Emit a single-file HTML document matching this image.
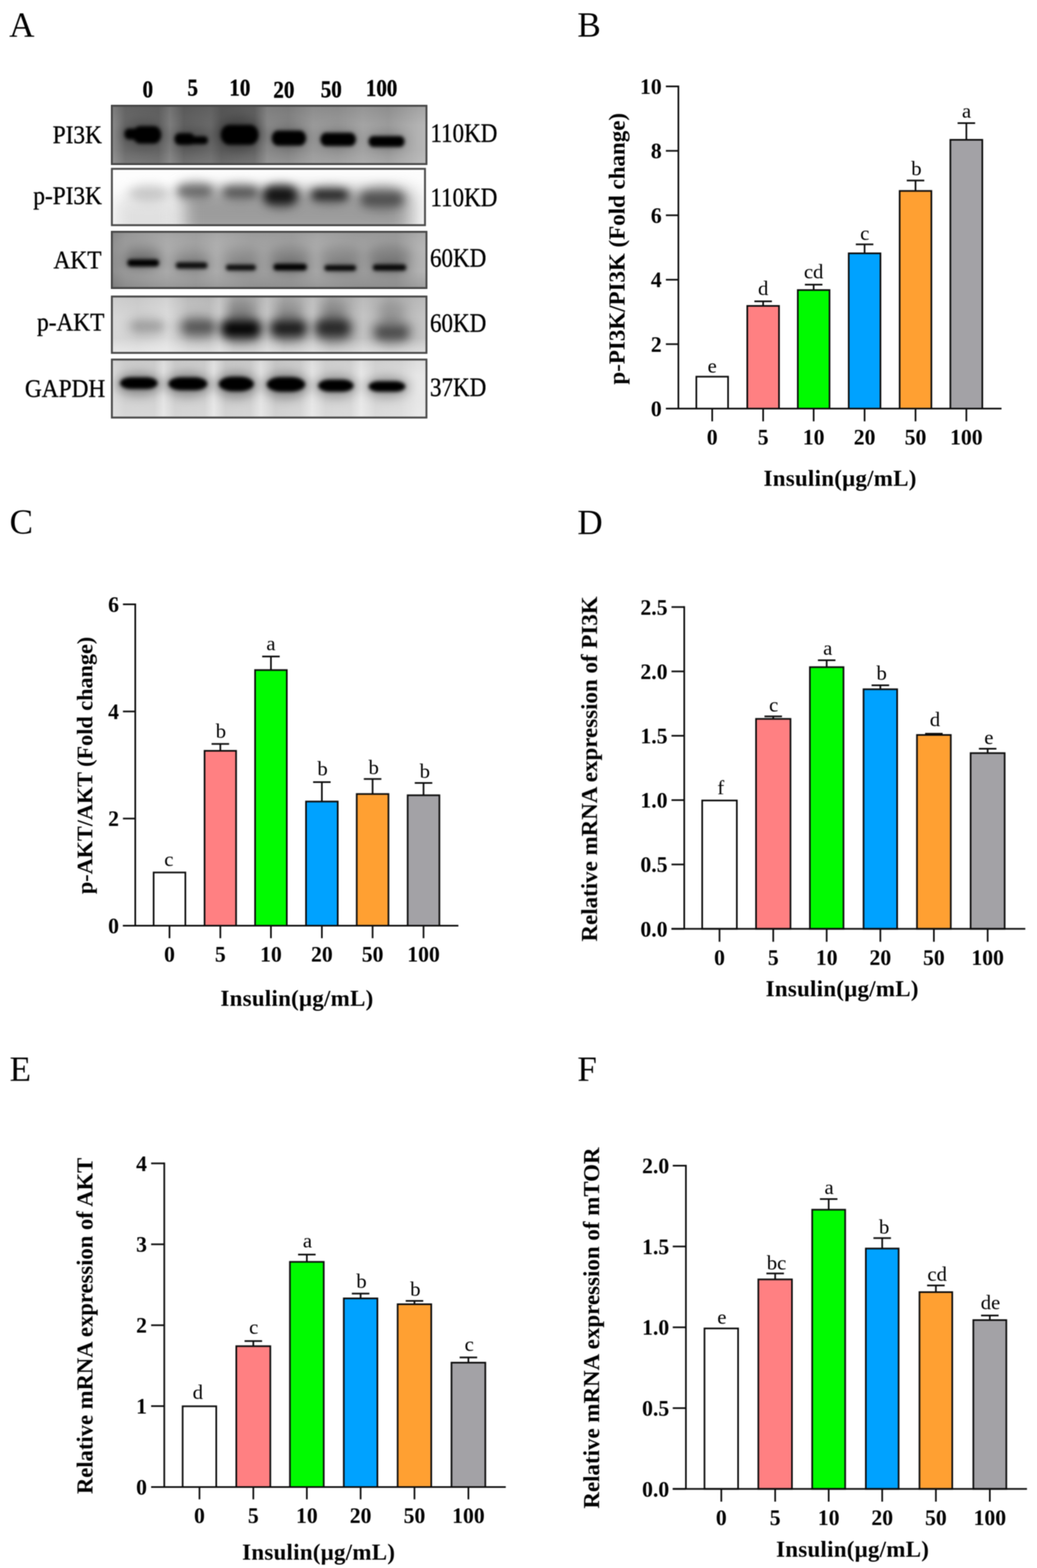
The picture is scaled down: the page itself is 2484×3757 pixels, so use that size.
<!DOCTYPE html>
<html lang="en"><head><meta charset="utf-8"><title>Figure</title>
<style>
html,body{margin:0;padding:0;background:#fff;}
body{width:2484px;height:3757px;font-family:"Liberation Serif", serif;}
svg{display:block;}
text{font-family:"Liberation Serif", serif;fill:#000;}
</style></head><body>
<svg width="2484" height="3757" viewBox="0 0 2484 3757">
<rect width="2484" height="3757" fill="#ffffff"/>
<defs>
<filter color-interpolation-filters="sRGB" id="b12" x="-50%" y="-120%" width="200%" height="340%"><feGaussianBlur stdDeviation="12"/></filter>
<filter color-interpolation-filters="sRGB" id="b20" x="-50%" y="-50%" width="200%" height="200%"><feGaussianBlur stdDeviation="20"/></filter>
<filter color-interpolation-filters="sRGB" id="bt" x="-10%" y="-10%" width="120%" height="120%"><feGaussianBlur stdDeviation="0.9"/></filter>
<filter color-interpolation-filters="sRGB" id="soft" filterUnits="userSpaceOnUse" x="0" y="0" width="2484" height="3757"><feGaussianBlur stdDeviation="0.8"/></filter>
</defs>

<g filter="url(#soft)">
<text x="22.0" y="88.0" font-size="84" font-weight="normal" text-anchor="start" >A</text>
<text x="1383.0" y="88.0" font-size="84" font-weight="normal" text-anchor="start" >B</text>
<text x="23.0" y="1279.0" font-size="84" font-weight="normal" text-anchor="start" >C</text>
<text x="1383.0" y="1280.0" font-size="84" font-weight="normal" text-anchor="start" >D</text>
<text x="23.0" y="2590.0" font-size="84" font-weight="normal" text-anchor="start" >E</text>
<text x="1383.0" y="2590.0" font-size="84" font-weight="normal" text-anchor="start" >F</text>
</g>
<filter color-interpolation-filters="sRGB" id="b4" x="-30%" y="-80%" width="160%" height="260%"><feGaussianBlur stdDeviation="4"/></filter>
<filter color-interpolation-filters="sRGB" id="b10" x="-40%" y="-120%" width="180%" height="340%"><feGaussianBlur stdDeviation="10"/></filter>
<linearGradient id="h_pi3k" gradientUnits="userSpaceOnUse" x1="266.0" y1="0" x2="1023.5" y2="0"><stop offset="0.000" stop-color="#8e8e8e"/><stop offset="0.045" stop-color="#6c6c6c"/><stop offset="0.150" stop-color="#666"/><stop offset="0.187" stop-color="#7e7e7e"/><stop offset="0.230" stop-color="#626262"/><stop offset="0.316" stop-color="#6a6a6a"/><stop offset="0.349" stop-color="#5c5c5c"/><stop offset="0.454" stop-color="#666"/><stop offset="0.494" stop-color="#8a8a8a"/><stop offset="0.560" stop-color="#868686"/><stop offset="0.639" stop-color="#9a9a9a"/><stop offset="0.718" stop-color="#989898"/><stop offset="0.797" stop-color="#a4a4a4"/><stop offset="0.877" stop-color="#9c9c9c"/><stop offset="0.969" stop-color="#b2b2b2"/><stop offset="0.999" stop-color="#b8b8b8"/></linearGradient>
<linearGradient id="v_pi3k" gradientUnits="userSpaceOnUse" x1="0" y1="251.5" x2="0" y2="395"><stop offset="-0.003" stop-color="#000" stop-opacity="0.1"/><stop offset="0.338" stop-color="#000" stop-opacity="0.0"/><stop offset="0.756" stop-color="#fff" stop-opacity="0.0"/><stop offset="1.000" stop-color="#fff" stop-opacity="0.1"/></linearGradient>
<clipPath id="c_pi3k"><rect x="266.0" y="251.5" width="757.5" height="143.5"/></clipPath>
<g clip-path="url(#c_pi3k)">
<rect x="266.0" y="251.5" width="757.5" height="143.5" fill="url(#h_pi3k)"/>
<rect x="266.0" y="251.5" width="757.5" height="143.5" fill="url(#v_pi3k)"/>
<g filter="url(#b12)">
<ellipse cx="342" cy="322" rx="55.0" ry="33.0" fill="#000" fill-opacity="0.22"/>
<ellipse cx="458" cy="332" rx="50.0" ry="25.0" fill="#000" fill-opacity="0.18"/>
<ellipse cx="574" cy="320" rx="57.5" ry="40.0" fill="#000" fill-opacity="0.28"/>
<ellipse cx="692" cy="330" rx="50.0" ry="28.0" fill="#000" fill-opacity="0.2"/>
<ellipse cx="810" cy="333" rx="50.0" ry="24.0" fill="#000" fill-opacity="0.18"/>
<ellipse cx="926" cy="338" rx="50.0" ry="21.0" fill="#000" fill-opacity="0.18"/>
</g>
<g filter="url(#b4)">
<rect x="318.0" y="302.0" width="68" height="42" rx="17.6" ry="21.0" fill="#000" fill-opacity="1"/>
<rect x="298.0" y="308.0" width="48" height="26" rx="10.9" ry="13.0" fill="#000" fill-opacity="1"/>
<rect x="418.0" y="319.0" width="48" height="28" rx="11.8" ry="14.0" fill="#000" fill-opacity="1"/>
<rect x="450.0" y="326.5" width="48" height="19" rx="8.0" ry="9.5" fill="#000" fill-opacity="1"/>
<rect x="529.0" y="299.0" width="90" height="48" rx="20.2" ry="24.0" fill="#000" fill-opacity="1"/>
<rect x="651.0" y="313.0" width="82" height="36" rx="15.1" ry="18.0" fill="#000" fill-opacity="1"/>
<rect x="767.5" y="318.0" width="85" height="32" rx="13.4" ry="16.0" fill="#000" fill-opacity="1"/>
<rect x="883.0" y="326.0" width="86" height="26" rx="10.9" ry="13.0" fill="#000" fill-opacity="1"/>
</g>
</g>
<rect x="268.0" y="253.5" width="753.5" height="139.5" fill="none" stroke="#484848" stroke-width="4.5" filter="url(#bt)"/>
<linearGradient id="h_ppi3k" gradientUnits="userSpaceOnUse" x1="266.0" y1="0" x2="1020" y2="0"><stop offset="0.000" stop-color="#fdfdfd"/><stop offset="1.000" stop-color="#fdfdfd"/></linearGradient>
<linearGradient id="v_ppi3k" gradientUnits="userSpaceOnUse" x1="0" y1="402.5" x2="0" y2="541.5"><stop offset="-0.004" stop-color="#fff" stop-opacity="0"/><stop offset="0.996" stop-color="#fff" stop-opacity="0"/></linearGradient>
<clipPath id="c_ppi3k"><rect x="266.0" y="402.5" width="754.0" height="139.0"/></clipPath>
<g clip-path="url(#c_ppi3k)">
<rect x="266.0" y="402.5" width="754.0" height="139.0" fill="url(#h_ppi3k)"/>
<rect x="266.0" y="402.5" width="754.0" height="139.0" fill="url(#v_ppi3k)"/>
<g filter="url(#b20)">
<rect x="275" y="475" width="150" height="90" fill="#e0e0e0" fill-opacity="1"/>
<rect x="440" y="455" width="535" height="110" fill="#9c9c9c" fill-opacity="1"/>
<rect x="975" y="460" width="30" height="100" fill="#cccccc" fill-opacity="0.8"/>
</g>
<g filter="url(#b12)">
<ellipse cx="357" cy="464" rx="50.0" ry="20.0" fill="#bbb" fill-opacity="0.8"/>
<ellipse cx="467" cy="458" rx="50.0" ry="23.0" fill="#777" fill-opacity="0.6"/>
<ellipse cx="576" cy="461" rx="50.0" ry="21.0" fill="#666" fill-opacity="0.6"/>
<ellipse cx="673" cy="470" rx="48.0" ry="30.0" fill="#333" fill-opacity="0.6"/>
<ellipse cx="790" cy="468" rx="52.5" ry="22.0" fill="#444" fill-opacity="0.5"/>
<ellipse cx="915" cy="476" rx="59.0" ry="30.0" fill="#555" fill-opacity="0.5"/>
</g>
<g filter="url(#b10)">
<rect x="429.0" y="447.0" width="76" height="22" rx="9.2" ry="11.0" fill="#333" fill-opacity="0.5"/>
<rect x="537.0" y="451.0" width="78" height="20" rx="8.4" ry="10.0" fill="#222" fill-opacity="0.55"/>
<rect x="634.0" y="449.0" width="74" height="38" rx="16.0" ry="19.0" fill="#000" fill-opacity="0.8"/>
<rect x="748.0" y="456.0" width="84" height="22" rx="9.2" ry="11.0" fill="#000" fill-opacity="0.75"/>
<rect x="867.0" y="462.0" width="96" height="30" rx="12.6" ry="15.0" fill="#222" fill-opacity="0.5"/>
</g>
</g>
<rect x="268.0" y="404.5" width="750.0" height="135.0" fill="none" stroke="#484848" stroke-width="4.5" filter="url(#bt)"/>
<linearGradient id="h_akt" gradientUnits="userSpaceOnUse" x1="266.0" y1="0" x2="1023.5" y2="0"><stop offset="0.000" stop-color="#8c8c8c"/><stop offset="0.045" stop-color="#9c9c9c"/><stop offset="0.177" stop-color="#acacac"/><stop offset="0.269" stop-color="#a4a4a4"/><stop offset="0.335" stop-color="#aeaeae"/><stop offset="0.441" stop-color="#a2a2a2"/><stop offset="0.573" stop-color="#a0a0a0"/><stop offset="0.652" stop-color="#aaaaaa"/><stop offset="0.771" stop-color="#a0a0a0"/><stop offset="0.903" stop-color="#9e9e9e"/><stop offset="0.969" stop-color="#b0b0b0"/><stop offset="0.999" stop-color="#b6b6b6"/></linearGradient>
<linearGradient id="v_akt" gradientUnits="userSpaceOnUse" x1="0" y1="553.5" x2="0" y2="692"><stop offset="-0.004" stop-color="#000" stop-opacity="0.06"/><stop offset="0.336" stop-color="#fff" stop-opacity="0.02"/><stop offset="0.697" stop-color="#000" stop-opacity="0.0"/><stop offset="1.000" stop-color="#000" stop-opacity="0.12"/></linearGradient>
<clipPath id="c_akt"><rect x="266.0" y="553.5" width="757.5" height="138.5"/></clipPath>
<g clip-path="url(#c_akt)">
<rect x="266.0" y="553.5" width="757.5" height="138.5" fill="url(#h_akt)"/>
<rect x="266.0" y="553.5" width="757.5" height="138.5" fill="url(#v_akt)"/>
<g filter="url(#b12)">
<ellipse cx="343" cy="608" rx="45.0" ry="20.0" fill="#000" fill-opacity="0.18"/>
<ellipse cx="459" cy="612" rx="45.0" ry="20.0" fill="#000" fill-opacity="0.1"/>
<ellipse cx="577" cy="612" rx="45.0" ry="20.0" fill="#000" fill-opacity="0.12"/>
<ellipse cx="695" cy="612" rx="50.0" ry="22.5" fill="#000" fill-opacity="0.16"/>
<ellipse cx="815" cy="612" rx="50.0" ry="22.5" fill="#000" fill-opacity="0.14"/>
<ellipse cx="933" cy="612" rx="52.5" ry="25.0" fill="#000" fill-opacity="0.18"/>
<ellipse cx="343" cy="630" rx="47.5" ry="15.0" fill="#000" fill-opacity="0.3"/>
<ellipse cx="459" cy="636" rx="47.5" ry="14.0" fill="#000" fill-opacity="0.25"/>
<ellipse cx="577" cy="641" rx="45.0" ry="13.0" fill="#000" fill-opacity="0.25"/>
<ellipse cx="695" cy="640" rx="49.0" ry="15.0" fill="#000" fill-opacity="0.3"/>
<ellipse cx="815" cy="642" rx="47.5" ry="13.0" fill="#000" fill-opacity="0.28"/>
<ellipse cx="933" cy="641" rx="49.0" ry="14.0" fill="#000" fill-opacity="0.28"/>
</g>
<g filter="url(#b4)">
<rect x="305.0" y="621.5" width="76" height="17" rx="7.1" ry="8.5" fill="#000" fill-opacity="1"/>
<rect x="421.0" y="628.5" width="76" height="15" rx="6.3" ry="7.5" fill="#000" fill-opacity="0.9"/>
<rect x="541.0" y="634.0" width="72" height="14" rx="5.9" ry="7.0" fill="#000" fill-opacity="0.9"/>
<rect x="655.0" y="632.0" width="80" height="16" rx="6.7" ry="8.0" fill="#000" fill-opacity="1"/>
<rect x="777.0" y="635.0" width="76" height="14" rx="5.9" ry="7.0" fill="#000" fill-opacity="0.95"/>
<rect x="893.0" y="633.5" width="80" height="15" rx="6.3" ry="7.5" fill="#000" fill-opacity="0.95"/>
</g>
</g>
<rect x="268.0" y="555.5" width="753.5" height="134.5" fill="none" stroke="#484848" stroke-width="4.5" filter="url(#bt)"/>
<linearGradient id="h_pakt" gradientUnits="userSpaceOnUse" x1="266.0" y1="0" x2="1023.5" y2="0"><stop offset="0.000" stop-color="#d8d8d8"/><stop offset="0.084" stop-color="#d2d2d2"/><stop offset="0.177" stop-color="#dcdcdc"/><stop offset="0.243" stop-color="#c4c4c4"/><stop offset="0.309" stop-color="#c0c0c0"/><stop offset="0.342" stop-color="#cecece"/><stop offset="0.388" stop-color="#b4b4b4"/><stop offset="0.454" stop-color="#b4b4b4"/><stop offset="0.494" stop-color="#c8c8c8"/><stop offset="0.547" stop-color="#b6b6b6"/><stop offset="0.599" stop-color="#bababa"/><stop offset="0.639" stop-color="#c8c8c8"/><stop offset="0.692" stop-color="#b4b4b4"/><stop offset="0.758" stop-color="#b8b8b8"/><stop offset="0.797" stop-color="#c4c4c4"/><stop offset="0.877" stop-color="#b6b6b6"/><stop offset="0.943" stop-color="#bcbcbc"/><stop offset="0.999" stop-color="#c6c6c6"/></linearGradient>
<linearGradient id="v_pakt" gradientUnits="userSpaceOnUse" x1="0" y1="708.5" x2="0" y2="847.5"><stop offset="-0.004" stop-color="#000" stop-opacity="0.05"/><stop offset="0.371" stop-color="#000" stop-opacity="0.0"/><stop offset="0.730" stop-color="#fff" stop-opacity="0.0"/><stop offset="0.996" stop-color="#fff" stop-opacity="0.5"/></linearGradient>
<clipPath id="c_pakt"><rect x="266.0" y="708.5" width="757.5" height="139.0"/></clipPath>
<g clip-path="url(#c_pakt)">
<rect x="266.0" y="708.5" width="757.5" height="139.0" fill="url(#h_pakt)"/>
<rect x="266.0" y="708.5" width="757.5" height="139.0" fill="url(#v_pakt)"/>
<g filter="url(#b12)">
<ellipse cx="353" cy="782" rx="47.5" ry="22.5" fill="#000" fill-opacity="0.15"/>
<ellipse cx="472" cy="784" rx="50.0" ry="30.0" fill="#000" fill-opacity="0.26"/>
<ellipse cx="577" cy="787" rx="56.0" ry="35.0" fill="#000" fill-opacity="0.4"/>
<ellipse cx="691" cy="786" rx="52.0" ry="35.0" fill="#000" fill-opacity="0.34"/>
<ellipse cx="799" cy="787" rx="52.0" ry="37.0" fill="#000" fill-opacity="0.32"/>
<ellipse cx="938" cy="794" rx="52.0" ry="33.0" fill="#000" fill-opacity="0.26"/>
<ellipse cx="577" cy="740" rx="35.0" ry="25.0" fill="#000" fill-opacity="0.2"/>
<ellipse cx="691" cy="740" rx="35.0" ry="25.0" fill="#000" fill-opacity="0.15"/>
<ellipse cx="799" cy="740" rx="35.0" ry="25.0" fill="#000" fill-opacity="0.18"/>
<ellipse cx="938" cy="745" rx="35.0" ry="25.0" fill="#000" fill-opacity="0.15"/>
</g>
<g filter="url(#b10)">
<rect x="318.0" y="774.0" width="70" height="16" rx="6.7" ry="8.0" fill="#777" fill-opacity="0.45"/>
<rect x="440.0" y="769.0" width="72" height="30" rx="12.6" ry="15.0" fill="#222" fill-opacity="0.5"/>
<rect x="533.0" y="770.0" width="88" height="36" rx="15.1" ry="18.0" fill="#000" fill-opacity="0.95"/>
<rect x="651.0" y="770.0" width="80" height="34" rx="14.3" ry="17.0" fill="#000" fill-opacity="0.75"/>
<rect x="758.0" y="767.0" width="78" height="38" rx="16.0" ry="19.0" fill="#000" fill-opacity="0.65"/>
<rect x="900.0" y="782.0" width="76" height="30" rx="12.6" ry="15.0" fill="#111" fill-opacity="0.5"/>
</g>
</g>
<rect x="268.0" y="710.5" width="753.5" height="135.0" fill="none" stroke="#484848" stroke-width="4.5" filter="url(#bt)"/>
<linearGradient id="h_gapdh" gradientUnits="userSpaceOnUse" x1="266.0" y1="0" x2="1023.5" y2="0"><stop offset="0.000" stop-color="#dedede"/><stop offset="0.045" stop-color="#d2d2d2"/><stop offset="0.137" stop-color="#d2d2d2"/><stop offset="0.166" stop-color="#e4e4e4"/><stop offset="0.203" stop-color="#d0d0d0"/><stop offset="0.296" stop-color="#d2d2d2"/><stop offset="0.325" stop-color="#e6e6e6"/><stop offset="0.362" stop-color="#cecece"/><stop offset="0.441" stop-color="#d0d0d0"/><stop offset="0.474" stop-color="#e4e4e4"/><stop offset="0.520" stop-color="#cccccc"/><stop offset="0.599" stop-color="#d2d2d2"/><stop offset="0.636" stop-color="#e6e6e6"/><stop offset="0.679" stop-color="#d4d4d4"/><stop offset="0.758" stop-color="#d6d6d6"/><stop offset="0.791" stop-color="#e8e8e8"/><stop offset="0.837" stop-color="#d6d6d6"/><stop offset="0.916" stop-color="#dadada"/><stop offset="0.969" stop-color="#e6e6e6"/><stop offset="0.999" stop-color="#e8e8e8"/></linearGradient>
<linearGradient id="v_gapdh" gradientUnits="userSpaceOnUse" x1="0" y1="859.5" x2="0" y2="1002.5"><stop offset="-0.003" stop-color="#000" stop-opacity="0.04"/><stop offset="0.283" stop-color="#000" stop-opacity="0.0"/><stop offset="0.703" stop-color="#fff" stop-opacity="0.0"/><stop offset="0.997" stop-color="#fff" stop-opacity="0.15"/></linearGradient>
<clipPath id="c_gapdh"><rect x="266.0" y="859.5" width="757.5" height="143.0"/></clipPath>
<g clip-path="url(#c_gapdh)">
<rect x="266.0" y="859.5" width="757.5" height="143.0" fill="url(#h_gapdh)"/>
<rect x="266.0" y="859.5" width="757.5" height="143.0" fill="url(#v_gapdh)"/>
<g filter="url(#b12)">
<ellipse cx="332.5" cy="920" rx="55.0" ry="27.5" fill="#000" fill-opacity="0.35"/>
<ellipse cx="450" cy="921" rx="56.0" ry="29.0" fill="#000" fill-opacity="0.35"/>
<ellipse cx="566" cy="922" rx="52.0" ry="31.0" fill="#000" fill-opacity="0.35"/>
<ellipse cx="685" cy="923" rx="56.0" ry="31.0" fill="#000" fill-opacity="0.35"/>
<ellipse cx="804.5" cy="925" rx="52.0" ry="27.5" fill="#000" fill-opacity="0.3"/>
<ellipse cx="927" cy="927" rx="53.0" ry="25.0" fill="#000" fill-opacity="0.3"/>
</g>
<g filter="url(#b4)">
<rect x="287.5" y="904.0" width="90" height="28" rx="28.0" ry="14.0" fill="#000" fill-opacity="1"/>
<rect x="403.5" y="904.0" width="93" height="31" rx="31.0" ry="15.5" fill="#000" fill-opacity="1"/>
<rect x="524.0" y="902.5" width="84" height="35" rx="35.0" ry="17.5" fill="#000" fill-opacity="1"/>
<rect x="639.0" y="903.5" width="92" height="35" rx="35.0" ry="17.5" fill="#000" fill-opacity="1"/>
<rect x="762.0" y="909.5" width="85" height="29" rx="29.0" ry="14.5" fill="#000" fill-opacity="1"/>
<rect x="883.0" y="913.5" width="88" height="25" rx="25.0" ry="12.5" fill="#000" fill-opacity="1"/>
</g>
</g>
<rect x="268.0" y="861.5" width="753.5" height="139.0" fill="none" stroke="#484848" stroke-width="4.5" filter="url(#bt)"/>
<g filter="url(#bt)" stroke="#111" stroke-width="0.9">
<text transform="translate(354.0 233.0) scale(0.9 1)" font-size="56" font-weight="bold" text-anchor="middle">0</text>
<text transform="translate(461.5 229.0) scale(0.9 1)" font-size="56" font-weight="bold" text-anchor="middle">5</text>
<text transform="translate(574.5 229.0) scale(0.9 1)" font-size="56" font-weight="bold" text-anchor="middle">10</text>
<text transform="translate(680.0 233.5) scale(0.9 1)" font-size="56" font-weight="bold" text-anchor="middle">20</text>
<text transform="translate(793.5 233.0) scale(0.9 1)" font-size="56" font-weight="bold" text-anchor="middle">50</text>
<text transform="translate(914.0 229.5) scale(0.9 1)" font-size="56" font-weight="bold" text-anchor="middle">100</text>
<text transform="translate(244.0 343.0) scale(0.9 1)" font-size="62" font-weight="normal" text-anchor="end">PI3K</text>
<text transform="translate(244.0 488.5) scale(0.9 1)" font-size="62" font-weight="normal" text-anchor="end">p-PI3K</text>
<text transform="translate(243.0 642.5) scale(0.9 1)" font-size="62" font-weight="normal" text-anchor="end">AKT</text>
<text transform="translate(250.0 792.0) scale(0.9 1)" font-size="62" font-weight="normal" text-anchor="end">p-AKT</text>
<text transform="translate(252.0 951.3) scale(0.9 1)" font-size="62" font-weight="normal" text-anchor="end">GAPDH</text>
<text transform="translate(1031.0 339.5) scale(0.875 1)" font-size="63" font-weight="normal" text-anchor="start">110KD</text>
<text transform="translate(1031.0 493.5) scale(0.875 1)" font-size="63" font-weight="normal" text-anchor="start">110KD</text>
<text transform="translate(1030.0 638.5) scale(0.875 1)" font-size="63" font-weight="normal" text-anchor="start">60KD</text>
<text transform="translate(1030.0 795.0) scale(0.875 1)" font-size="63" font-weight="normal" text-anchor="start">60KD</text>
<text transform="translate(1030.0 949.0) scale(0.875 1)" font-size="63" font-weight="normal" text-anchor="start">37KD</text>
</g>
<g filter="url(#soft)">
<g id="chartB">
<rect x="1668.0" y="902.5" width="76.0" height="76.5" fill="#ffffff" stroke="#0c0c0c" stroke-width="4"/>
<text x="1706.0" y="893.0" font-size="49.5" font-weight="normal" text-anchor="middle" >e</text>
<path d="M1706.0 979.0V1009.5" stroke="#0c0c0c" stroke-width="4"/>
<text x="1706.0" y="1065.0" font-size="52" font-weight="bold" text-anchor="middle" >0</text>
<path d="M1807.0 722.0H1849.0M1828.0 722.0V733.0" stroke="#0c0c0c" stroke-width="4" fill="none"/>
<rect x="1790.0" y="733.0" width="76.0" height="246.0" fill="#ff8082" stroke="#0c0c0c" stroke-width="4"/>
<text x="1828.0" y="706.5" font-size="49.5" font-weight="normal" text-anchor="middle" >d</text>
<path d="M1828.0 979.0V1009.5" stroke="#0c0c0c" stroke-width="4"/>
<text x="1828.0" y="1065.0" font-size="52" font-weight="bold" text-anchor="middle" >5</text>
<path d="M1928.0 682.0H1970.0M1949.0 682.0V695.0" stroke="#0c0c0c" stroke-width="4" fill="none"/>
<rect x="1911.0" y="695.0" width="76.0" height="284.0" fill="#00fb00" stroke="#0c0c0c" stroke-width="4"/>
<text x="1949.0" y="667.0" font-size="49.5" font-weight="normal" text-anchor="middle" >cd</text>
<path d="M1949.0 979.0V1009.5" stroke="#0c0c0c" stroke-width="4"/>
<text x="1949.0" y="1065.0" font-size="52" font-weight="bold" text-anchor="middle" >10</text>
<path d="M2050.0 585.5H2092.0M2071.0 585.5V607.0" stroke="#0c0c0c" stroke-width="4" fill="none"/>
<rect x="2033.0" y="607.0" width="76.0" height="372.0" fill="#00a2ff" stroke="#0c0c0c" stroke-width="4"/>
<text x="2071.5" y="575.0" font-size="49.5" font-weight="normal" text-anchor="middle" >c</text>
<path d="M2071.0 979.0V1009.5" stroke="#0c0c0c" stroke-width="4"/>
<text x="2071.0" y="1065.0" font-size="52" font-weight="bold" text-anchor="middle" >20</text>
<path d="M2172.0 432.5H2214.0M2193.0 432.5V457.5" stroke="#0c0c0c" stroke-width="4" fill="none"/>
<rect x="2155.0" y="457.5" width="76.0" height="521.5" fill="#ffa032" stroke="#0c0c0c" stroke-width="4"/>
<text x="2195.0" y="420.0" font-size="49.5" font-weight="normal" text-anchor="middle" >b</text>
<path d="M2193.0 979.0V1009.5" stroke="#0c0c0c" stroke-width="4"/>
<text x="2193.0" y="1065.0" font-size="52" font-weight="bold" text-anchor="middle" >50</text>
<path d="M2293.8 295.0H2335.8M2314.8 295.0V335.0" stroke="#0c0c0c" stroke-width="4" fill="none"/>
<rect x="2276.5" y="335.0" width="76.5" height="644.0" fill="#a3a2a6" stroke="#0c0c0c" stroke-width="4"/>
<text x="2315.2" y="282.0" font-size="49.5" font-weight="normal" text-anchor="middle" >a</text>
<path d="M2314.8 979.0V1009.5" stroke="#0c0c0c" stroke-width="4"/>
<text x="2314.8" y="1065.0" font-size="52" font-weight="bold" text-anchor="middle" >100</text>
<path d="M1625.0 205.0V981.0M1595.0 979.0H2399.0" stroke="#0c0c0c" stroke-width="4" fill="none"/>
<path d="M1595.0 207.0H1625.0" stroke="#0c0c0c" stroke-width="4"/>
<text x="1585.0" y="225.0" font-size="52" font-weight="bold" text-anchor="end" >10</text>
<path d="M1595.0 361.4H1625.0" stroke="#0c0c0c" stroke-width="4"/>
<text x="1585.0" y="379.4" font-size="52" font-weight="bold" text-anchor="end" >8</text>
<path d="M1595.0 515.8H1625.0" stroke="#0c0c0c" stroke-width="4"/>
<text x="1585.0" y="533.8" font-size="52" font-weight="bold" text-anchor="end" >6</text>
<path d="M1595.0 670.2H1625.0" stroke="#0c0c0c" stroke-width="4"/>
<text x="1585.0" y="688.2" font-size="52" font-weight="bold" text-anchor="end" >4</text>
<path d="M1595.0 824.6H1625.0" stroke="#0c0c0c" stroke-width="4"/>
<text x="1585.0" y="842.6" font-size="52" font-weight="bold" text-anchor="end" >2</text>
<path d="M1595.0 979.0H1625.0" stroke="#0c0c0c" stroke-width="4"/>
<text x="1585.0" y="997.0" font-size="52" font-weight="bold" text-anchor="end" >0</text>
<text x="2012.3" y="1164.0" font-size="55" font-weight="bold" text-anchor="middle" letter-spacing="0.6">Insulin(μg/mL)</text>
<text transform="translate(1496.0 596.0) rotate(-90)" font-size="55" font-weight="bold" text-anchor="middle">p-PI3K/PI3K (Fold change)</text>
</g>
<g id="chartC">
<rect x="368.0" y="2090.5" width="76.0" height="127.5" fill="#ffffff" stroke="#0c0c0c" stroke-width="4"/>
<text x="404.5" y="2075.0" font-size="49.5" font-weight="normal" text-anchor="middle" >c</text>
<path d="M406.0 2218.0V2248.0" stroke="#0c0c0c" stroke-width="4"/>
<text x="406.0" y="2304.0" font-size="52" font-weight="bold" text-anchor="middle" >0</text>
<path d="M506.8 1782.5H548.8M527.8 1782.5V1799.0" stroke="#0c0c0c" stroke-width="4" fill="none"/>
<rect x="490.0" y="1799.0" width="75.5" height="419.0" fill="#ff8082" stroke="#0c0c0c" stroke-width="4"/>
<text x="529.2" y="1768.0" font-size="49.5" font-weight="normal" text-anchor="middle" >b</text>
<path d="M527.8 2218.0V2248.0" stroke="#0c0c0c" stroke-width="4"/>
<text x="527.8" y="2304.0" font-size="52" font-weight="bold" text-anchor="middle" >5</text>
<path d="M628.0 1573.0H670.0M649.0 1573.0V1605.5" stroke="#0c0c0c" stroke-width="4" fill="none"/>
<rect x="611.0" y="1605.5" width="76.0" height="612.5" fill="#00fb00" stroke="#0c0c0c" stroke-width="4"/>
<text x="649.0" y="1557.5" font-size="49.5" font-weight="normal" text-anchor="middle" >a</text>
<path d="M649.0 2218.0V2248.0" stroke="#0c0c0c" stroke-width="4"/>
<text x="649.0" y="2304.0" font-size="52" font-weight="bold" text-anchor="middle" >10</text>
<path d="M750.0 1874.0H792.0M771.0 1874.0V1920.5" stroke="#0c0c0c" stroke-width="4" fill="none"/>
<rect x="733.0" y="1920.5" width="76.0" height="297.5" fill="#00a2ff" stroke="#0c0c0c" stroke-width="4"/>
<text x="772.5" y="1858.0" font-size="49.5" font-weight="normal" text-anchor="middle" >b</text>
<path d="M771.0 2218.0V2248.0" stroke="#0c0c0c" stroke-width="4"/>
<text x="771.0" y="2304.0" font-size="52" font-weight="bold" text-anchor="middle" >20</text>
<path d="M871.5 1866.5H913.5M892.5 1866.5V1902.5" stroke="#0c0c0c" stroke-width="4" fill="none"/>
<rect x="854.5" y="1902.5" width="76.0" height="315.5" fill="#ffa032" stroke="#0c0c0c" stroke-width="4"/>
<text x="895.0" y="1855.0" font-size="49.5" font-weight="normal" text-anchor="middle" >b</text>
<path d="M892.5 2218.0V2248.0" stroke="#0c0c0c" stroke-width="4"/>
<text x="892.5" y="2304.0" font-size="52" font-weight="bold" text-anchor="middle" >50</text>
<path d="M993.5 1876.0H1035.5M1014.5 1876.0V1905.5" stroke="#0c0c0c" stroke-width="4" fill="none"/>
<rect x="976.5" y="1905.5" width="76.0" height="312.5" fill="#a3a2a6" stroke="#0c0c0c" stroke-width="4"/>
<text x="1017.5" y="1864.0" font-size="49.5" font-weight="normal" text-anchor="middle" >b</text>
<path d="M1014.5 2218.0V2248.0" stroke="#0c0c0c" stroke-width="4"/>
<text x="1014.5" y="2304.0" font-size="52" font-weight="bold" text-anchor="middle" >100</text>
<path d="M324.0 1446.0V2220.0M294.5 2218.0H1098.0" stroke="#0c0c0c" stroke-width="4" fill="none"/>
<path d="M294.5 1448.0H324.0" stroke="#0c0c0c" stroke-width="4"/>
<text x="285.0" y="1466.0" font-size="52" font-weight="bold" text-anchor="end" >6</text>
<path d="M294.5 1704.7H324.0" stroke="#0c0c0c" stroke-width="4"/>
<text x="285.0" y="1722.7" font-size="52" font-weight="bold" text-anchor="end" >4</text>
<path d="M294.5 1961.3H324.0" stroke="#0c0c0c" stroke-width="4"/>
<text x="285.0" y="1979.3" font-size="52" font-weight="bold" text-anchor="end" >2</text>
<path d="M294.5 2218.0H324.0" stroke="#0c0c0c" stroke-width="4"/>
<text x="285.0" y="2236.0" font-size="52" font-weight="bold" text-anchor="end" >0</text>
<text x="711.3" y="2410.0" font-size="55" font-weight="bold" text-anchor="middle" letter-spacing="0.6">Insulin(μg/mL)</text>
<text transform="translate(221.0 1834.0) rotate(-90)" font-size="53.2" font-weight="bold" text-anchor="middle">p-AKT/AKT (Fold change)</text>
</g>
<g id="chartD">
<rect x="1682.0" y="1918.0" width="83.0" height="307.5" fill="#ffffff" stroke="#0c0c0c" stroke-width="4"/>
<text x="1726.5" y="1902.5" font-size="49.5" font-weight="normal" text-anchor="middle" >f</text>
<path d="M1723.5 2225.5V2256.5" stroke="#0c0c0c" stroke-width="4"/>
<text x="1723.5" y="2312.0" font-size="52" font-weight="bold" text-anchor="middle" >0</text>
<path d="M1831.2 1716.5H1873.2M1852.2 1716.5V1722.5" stroke="#0c0c0c" stroke-width="4" fill="none"/>
<rect x="1811.0" y="1722.5" width="82.5" height="503.0" fill="#ff8082" stroke="#0c0c0c" stroke-width="4"/>
<text x="1853.2" y="1704.5" font-size="49.5" font-weight="normal" text-anchor="middle" >c</text>
<path d="M1852.2 2225.5V2256.5" stroke="#0c0c0c" stroke-width="4"/>
<text x="1852.2" y="2312.0" font-size="52" font-weight="bold" text-anchor="middle" >5</text>
<path d="M1959.2 1582.0H2001.2M1980.2 1582.0V1598.5" stroke="#0c0c0c" stroke-width="4" fill="none"/>
<rect x="1940.0" y="1598.5" width="80.5" height="627.0" fill="#00fb00" stroke="#0c0c0c" stroke-width="4"/>
<text x="1982.8" y="1568.5" font-size="49.5" font-weight="normal" text-anchor="middle" >a</text>
<path d="M1980.2 2225.5V2256.5" stroke="#0c0c0c" stroke-width="4"/>
<text x="1980.2" y="2312.0" font-size="52" font-weight="bold" text-anchor="middle" >10</text>
<path d="M2087.8 1642.0H2129.8M2108.8 1642.0V1651.5" stroke="#0c0c0c" stroke-width="4" fill="none"/>
<rect x="2068.5" y="1651.5" width="80.5" height="574.0" fill="#00a2ff" stroke="#0c0c0c" stroke-width="4"/>
<text x="2111.8" y="1629.0" font-size="49.5" font-weight="normal" text-anchor="middle" >b</text>
<path d="M2108.8 2225.5V2256.5" stroke="#0c0c0c" stroke-width="4"/>
<text x="2108.8" y="2312.0" font-size="52" font-weight="bold" text-anchor="middle" >20</text>
<path d="M2216.0 1758.0H2258.0M2237.0 1758.0V1761.0" stroke="#0c0c0c" stroke-width="4" fill="none"/>
<rect x="2196.5" y="1761.0" width="81.0" height="464.5" fill="#ffa032" stroke="#0c0c0c" stroke-width="4"/>
<text x="2239.5" y="1739.5" font-size="49.5" font-weight="normal" text-anchor="middle" >d</text>
<path d="M2237.0 2225.5V2256.5" stroke="#0c0c0c" stroke-width="4"/>
<text x="2237.0" y="2312.0" font-size="52" font-weight="bold" text-anchor="middle" >50</text>
<path d="M2344.8 1794.0H2386.8M2365.8 1794.0V1804.5" stroke="#0c0c0c" stroke-width="4" fill="none"/>
<rect x="2325.0" y="1804.5" width="81.5" height="421.0" fill="#a3a2a6" stroke="#0c0c0c" stroke-width="4"/>
<text x="2368.8" y="1782.5" font-size="49.5" font-weight="normal" text-anchor="middle" >e</text>
<path d="M2365.8 2225.5V2256.5" stroke="#0c0c0c" stroke-width="4"/>
<text x="2365.8" y="2312.0" font-size="52" font-weight="bold" text-anchor="middle" >100</text>
<path d="M1639.0 1452.5V2227.5M1608.5 2225.5H2456.0" stroke="#0c0c0c" stroke-width="4" fill="none"/>
<path d="M1608.5 1454.5H1639.0" stroke="#0c0c0c" stroke-width="4"/>
<text x="1599.0" y="1472.5" font-size="52" font-weight="bold" text-anchor="end" >2.5</text>
<path d="M1608.5 1608.7H1639.0" stroke="#0c0c0c" stroke-width="4"/>
<text x="1599.0" y="1626.7" font-size="52" font-weight="bold" text-anchor="end" >2.0</text>
<path d="M1608.5 1762.9H1639.0" stroke="#0c0c0c" stroke-width="4"/>
<text x="1599.0" y="1780.9" font-size="52" font-weight="bold" text-anchor="end" >1.5</text>
<path d="M1608.5 1917.1H1639.0" stroke="#0c0c0c" stroke-width="4"/>
<text x="1599.0" y="1935.1" font-size="52" font-weight="bold" text-anchor="end" >1.0</text>
<path d="M1608.5 2071.3H1639.0" stroke="#0c0c0c" stroke-width="4"/>
<text x="1599.0" y="2089.3" font-size="52" font-weight="bold" text-anchor="end" >0.5</text>
<path d="M1608.5 2225.5H1639.0" stroke="#0c0c0c" stroke-width="4"/>
<text x="1599.0" y="2243.5" font-size="52" font-weight="bold" text-anchor="end" >0.0</text>
<text x="2017.3" y="2386.5" font-size="55" font-weight="bold" text-anchor="middle" letter-spacing="0.6">Insulin(μg/mL)</text>
<text transform="translate(1430.0 1842.5) rotate(-90)" font-size="55" font-weight="bold" text-anchor="middle">Relative mRNA expression of PI3K</text>
</g>
<g id="chartE">
<rect x="437.5" y="3369.5" width="80.5" height="193.5" fill="#ffffff" stroke="#0c0c0c" stroke-width="4"/>
<text x="473.8" y="3351.5" font-size="49.5" font-weight="normal" text-anchor="middle" >d</text>
<path d="M477.8 3563.0V3592.5" stroke="#0c0c0c" stroke-width="4"/>
<text x="477.8" y="3648.5" font-size="52" font-weight="bold" text-anchor="middle" >0</text>
<path d="M585.8 3213.3H627.8M606.8 3213.3V3225.5" stroke="#0c0c0c" stroke-width="4" fill="none"/>
<rect x="566.0" y="3225.5" width="81.5" height="337.5" fill="#ff8082" stroke="#0c0c0c" stroke-width="4"/>
<text x="607.8" y="3195.5" font-size="49.5" font-weight="normal" text-anchor="middle" >c</text>
<path d="M606.8 3563.0V3592.5" stroke="#0c0c0c" stroke-width="4"/>
<text x="606.8" y="3648.5" font-size="52" font-weight="bold" text-anchor="middle" >5</text>
<path d="M714.0 3006.0H756.0M735.0 3006.0V3023.5" stroke="#0c0c0c" stroke-width="4" fill="none"/>
<rect x="694.5" y="3023.5" width="81.0" height="539.5" fill="#00fb00" stroke="#0c0c0c" stroke-width="4"/>
<text x="736.5" y="2989.0" font-size="49.5" font-weight="normal" text-anchor="middle" >a</text>
<path d="M735.0 3563.0V3592.5" stroke="#0c0c0c" stroke-width="4"/>
<text x="735.0" y="3648.5" font-size="52" font-weight="bold" text-anchor="middle" >10</text>
<path d="M842.8 3099.5H884.8M863.8 3099.5V3111.0" stroke="#0c0c0c" stroke-width="4" fill="none"/>
<rect x="823.5" y="3111.0" width="80.5" height="452.0" fill="#00a2ff" stroke="#0c0c0c" stroke-width="4"/>
<text x="865.8" y="3086.0" font-size="49.5" font-weight="normal" text-anchor="middle" >b</text>
<path d="M863.8 3563.0V3592.5" stroke="#0c0c0c" stroke-width="4"/>
<text x="863.8" y="3648.5" font-size="52" font-weight="bold" text-anchor="middle" >20</text>
<path d="M971.8 3117.0H1013.8M992.8 3117.0V3125.0" stroke="#0c0c0c" stroke-width="4" fill="none"/>
<rect x="952.5" y="3125.0" width="80.5" height="438.0" fill="#ffa032" stroke="#0c0c0c" stroke-width="4"/>
<text x="994.8" y="3105.0" font-size="49.5" font-weight="normal" text-anchor="middle" >b</text>
<path d="M992.8 3563.0V3592.5" stroke="#0c0c0c" stroke-width="4"/>
<text x="992.8" y="3648.5" font-size="52" font-weight="bold" text-anchor="middle" >50</text>
<path d="M1101.0 3252.5H1143.0M1122.0 3252.5V3265.0" stroke="#0c0c0c" stroke-width="4" fill="none"/>
<rect x="1081.5" y="3265.0" width="81.0" height="298.0" fill="#a3a2a6" stroke="#0c0c0c" stroke-width="4"/>
<text x="1124.0" y="3236.5" font-size="49.5" font-weight="normal" text-anchor="middle" >c</text>
<path d="M1122.0 3563.0V3592.5" stroke="#0c0c0c" stroke-width="4"/>
<text x="1122.0" y="3648.5" font-size="52" font-weight="bold" text-anchor="middle" >100</text>
<path d="M393.5 2785.5V3565.0M362.0 3563.0H1211.5" stroke="#0c0c0c" stroke-width="4" fill="none"/>
<path d="M362.0 2787.5H393.5" stroke="#0c0c0c" stroke-width="4"/>
<text x="352.0" y="2805.5" font-size="52" font-weight="bold" text-anchor="end" >4</text>
<path d="M362.0 2981.4H393.5" stroke="#0c0c0c" stroke-width="4"/>
<text x="352.0" y="2999.4" font-size="52" font-weight="bold" text-anchor="end" >3</text>
<path d="M362.0 3175.3H393.5" stroke="#0c0c0c" stroke-width="4"/>
<text x="352.0" y="3193.3" font-size="52" font-weight="bold" text-anchor="end" >2</text>
<path d="M362.0 3369.1H393.5" stroke="#0c0c0c" stroke-width="4"/>
<text x="352.0" y="3387.1" font-size="52" font-weight="bold" text-anchor="end" >1</text>
<path d="M362.0 3563.0H393.5" stroke="#0c0c0c" stroke-width="4"/>
<text x="352.0" y="3581.0" font-size="52" font-weight="bold" text-anchor="end" >0</text>
<text x="763.3" y="3737.0" font-size="55" font-weight="bold" text-anchor="middle" letter-spacing="0.6">Insulin(μg/mL)</text>
<text transform="translate(221.5 3177.0) rotate(-90)" font-size="54.2" font-weight="bold" text-anchor="middle">Relative mRNA expression of AKT</text>
</g>
<g id="chartF">
<rect x="1687.5" y="3183.0" width="80.5" height="384.5" fill="#ffffff" stroke="#0c0c0c" stroke-width="4"/>
<text x="1729.2" y="3171.5" font-size="49.5" font-weight="normal" text-anchor="middle" >e</text>
<path d="M1727.8 3567.5V3598.0" stroke="#0c0c0c" stroke-width="4"/>
<text x="1727.8" y="3653.5" font-size="52" font-weight="bold" text-anchor="middle" >0</text>
<path d="M1835.8 3051.3H1877.8M1856.8 3051.3V3065.5" stroke="#0c0c0c" stroke-width="4" fill="none"/>
<rect x="1816.5" y="3065.5" width="80.5" height="502.0" fill="#ff8082" stroke="#0c0c0c" stroke-width="4"/>
<text x="1860.2" y="3041.5" font-size="49.5" font-weight="normal" text-anchor="middle" >bc</text>
<path d="M1856.8 3567.5V3598.0" stroke="#0c0c0c" stroke-width="4"/>
<text x="1856.8" y="3653.5" font-size="52" font-weight="bold" text-anchor="middle" >5</text>
<path d="M1964.0 2873.0H2006.0M1985.0 2873.0V2898.5" stroke="#0c0c0c" stroke-width="4" fill="none"/>
<rect x="1945.5" y="2898.5" width="79.0" height="669.0" fill="#00fb00" stroke="#0c0c0c" stroke-width="4"/>
<text x="1986.0" y="2860.5" font-size="49.5" font-weight="normal" text-anchor="middle" >a</text>
<path d="M1985.0 3567.5V3598.0" stroke="#0c0c0c" stroke-width="4"/>
<text x="1985.0" y="3653.5" font-size="52" font-weight="bold" text-anchor="middle" >10</text>
<path d="M2092.2 2966.5H2134.2M2113.2 2966.5V2991.5" stroke="#0c0c0c" stroke-width="4" fill="none"/>
<rect x="2074.0" y="2991.5" width="78.5" height="576.0" fill="#00a2ff" stroke="#0c0c0c" stroke-width="4"/>
<text x="2117.8" y="2956.0" font-size="49.5" font-weight="normal" text-anchor="middle" >b</text>
<path d="M2113.2 3567.5V3598.0" stroke="#0c0c0c" stroke-width="4"/>
<text x="2113.2" y="3653.5" font-size="52" font-weight="bold" text-anchor="middle" >20</text>
<path d="M2220.8 3080.0H2262.8M2241.8 3080.0V3096.0" stroke="#0c0c0c" stroke-width="4" fill="none"/>
<rect x="2202.5" y="3096.0" width="78.5" height="471.5" fill="#ffa032" stroke="#0c0c0c" stroke-width="4"/>
<text x="2244.8" y="3068.5" font-size="49.5" font-weight="normal" text-anchor="middle" >cd</text>
<path d="M2241.8 3567.5V3598.0" stroke="#0c0c0c" stroke-width="4"/>
<text x="2241.8" y="3653.5" font-size="52" font-weight="bold" text-anchor="middle" >50</text>
<path d="M2350.0 3152.0H2392.0M2371.0 3152.0V3163.0" stroke="#0c0c0c" stroke-width="4" fill="none"/>
<rect x="2331.5" y="3163.0" width="79.0" height="404.5" fill="#a3a2a6" stroke="#0c0c0c" stroke-width="4"/>
<text x="2372.5" y="3136.5" font-size="49.5" font-weight="normal" text-anchor="middle" >de</text>
<path d="M2371.0 3567.5V3598.0" stroke="#0c0c0c" stroke-width="4"/>
<text x="2371.0" y="3653.5" font-size="52" font-weight="bold" text-anchor="middle" >100</text>
<path d="M1643.0 2791.0V3569.5M1611.5 3567.5H2460.0" stroke="#0c0c0c" stroke-width="4" fill="none"/>
<path d="M1611.5 2793.0H1643.0" stroke="#0c0c0c" stroke-width="4"/>
<text x="1603.0" y="2811.0" font-size="52" font-weight="bold" text-anchor="end" >2.0</text>
<path d="M1611.5 2986.6H1643.0" stroke="#0c0c0c" stroke-width="4"/>
<text x="1603.0" y="3004.6" font-size="52" font-weight="bold" text-anchor="end" >1.5</text>
<path d="M1611.5 3180.3H1643.0" stroke="#0c0c0c" stroke-width="4"/>
<text x="1603.0" y="3198.3" font-size="52" font-weight="bold" text-anchor="end" >1.0</text>
<path d="M1611.5 3373.9H1643.0" stroke="#0c0c0c" stroke-width="4"/>
<text x="1603.0" y="3391.9" font-size="52" font-weight="bold" text-anchor="end" >0.5</text>
<path d="M1611.5 3567.5H1643.0" stroke="#0c0c0c" stroke-width="4"/>
<text x="1603.0" y="3585.5" font-size="52" font-weight="bold" text-anchor="end" >0.0</text>
<text x="2042.3" y="3730.0" font-size="55" font-weight="bold" text-anchor="middle" letter-spacing="0.6">Insulin(μg/mL)</text>
<text transform="translate(1435.0 3182.0) rotate(-90)" font-size="55" font-weight="bold" text-anchor="middle">Relative mRNA expression of mTOR</text>
</g>
</g>
</svg>
</body></html>
